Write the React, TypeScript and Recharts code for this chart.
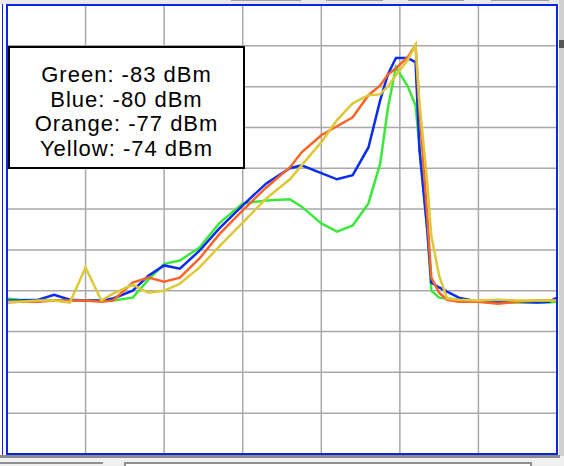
import React from "react";
import { LineChart, Line, XAxis, YAxis, CartesianGrid } from "recharts";

// Frequency position (grid divisions x10)
const freq = [0, 1.5, 4, 6, 8, 10, 12, 13.5, 16, 18, 20, 22, 24.5, 27, 30, 33, 36, 37.5, 40, 42, 44, 46, 47.5, 48.5, 49.5, 51, 52, 52.5, 53.5, 54, 55, 56, 57.5, 60, 62.5, 65, 67.5, 69, 70];

// Levels in dBm
const green = [-81.9, -82.2, -82.4, -82.4, -82.4, -82.4, -82.4, -82.4, -81.7, -77.3, -73.4, -72.6, -69.4, -63.5, -58.6, -57.9, -57.6, -59.4, -63.5, -65.5, -64.0, -58.6, -48.8, -35.0, -25.2, -29.9, -34.6, -44.9, -65.3, -80.0, -81.7, -81.9, -82.2, -82.7, -82.9, -82.9, -82.9, -82.9, -82.7];
const blue = [-82.4, -82.4, -82.2, -81.0, -82.2, -82.4, -82.4, -81.9, -80.0, -76.3, -73.8, -74.6, -70.2, -64.8, -59.1, -53.7, -50.0, -49.3, -51.2, -52.7, -51.7, -44.9, -33.3, -26.9, -23.0, -23.0, -24.0, -45.6, -65.3, -78.0, -79.2, -80.2, -81.7, -82.7, -82.7, -82.7, -82.9, -82.7, -81.7];
const orange = [-82.9, -82.7, -82.7, -82.4, -82.4, -82.4, -82.7, -82.4, -78.0, -76.8, -77.8, -76.8, -72.1, -66.2, -60.3, -54.7, -49.8, -46.1, -41.9, -39.7, -37.5, -32.1, -29.7, -27.0, -25.5, -22.8, -19.8, -35.8, -62.1, -76.8, -80.5, -82.2, -82.7, -82.7, -83.2, -82.7, -82.4, -82.4, -82.4];
const yellow = [-82.7, -82.7, -82.4, -82.4, -82.9, -74.3, -82.4, -80.7, -78.5, -80.5, -80.0, -78.3, -74.3, -69.2, -63.3, -57.4, -52.7, -49.3, -43.6, -38.2, -34.1, -32.1, -31.9, -29.9, -27.2, -23.5, -19.8, -34.1, -53.7, -66.5, -76.3, -81.9, -82.2, -82.4, -82.2, -82.4, -82.4, -82.4, -82.4];

const xTicks = [0, 10, 20, 30, 40, 50, 60, 70];
const yTicks = [-120, -110, -100, -90, -80, -70, -60, -50, -40, -30, -20, -10];

const legendLines = ["Green: -83 dBm", "Blue: -80 dBm", "Orange: -77 dBm", "Yellow: -74 dBm"];

const rows = freq.map((f, i) => ({
  f,
  green: green[i],
  blue: blue[i],
  orange: orange[i],
  yellow: yellow[i],
}));

const BORDER_BLUE = "#0b24e6";

export default function App() {
  return (
    <div
      style={{
        position: "fixed",
        left: 0,
        top: 0,
        width: 564,
        height: 466,
        background: "#ffffff",
        overflow: "hidden",
        fontFamily: "'Liberation Sans', Arial, sans-serif",
      }}
    >
      {/* top strip */}
      <div style={{ position: "absolute", left: 0, top: 0, width: 564, height: 4, background: "#e9e9e9" }} />
      <div style={{ position: "absolute", left: 231, top: 0, width: 70, height: 1, background: "#a0a0a0" }} />
      <div style={{ position: "absolute", left: 326, top: 0, width: 57, height: 1, background: "#a0a0a0" }} />
      <div style={{ position: "absolute", left: 408, top: 0, width: 56, height: 1, background: "#a0a0a0" }} />
      <div style={{ position: "absolute", left: 491, top: 0, width: 58, height: 1, background: "#a0a0a0" }} />
      {/* left outer panel line */}
      <div style={{ position: "absolute", left: 2, top: 4, width: 1, height: 451, background: BORDER_BLUE }} />
      {/* right strip */}
      <div style={{ position: "absolute", left: 559, top: 0, width: 5, height: 466, background: "#cfcfcf" }} />
      <div style={{ position: "absolute", left: 559, top: 40, width: 5, height: 8, background: "#555555" }} />
      {/* bottom strip */}
      <div style={{ position: "absolute", left: 0, top: 456, width: 564, height: 10, background: "#f0f0f0" }} />
      <div style={{ position: "absolute", left: 0, top: 455, width: 560, height: 3, background: "#8c8c8c" }} />
      <div style={{ position: "absolute", left: 0, top: 462, width: 103, height: 4, borderTop: "2px solid #909090", boxSizing: "border-box" }} />
      <div style={{ position: "absolute", left: 124, top: 462, width: 408, height: 6, border: "2px solid #909090", boxSizing: "border-box", background: "#ffffff" }} />

      {/* chart */}
      <div style={{ position: "absolute", left: 7, top: 5, width: 550, height: 449 }}>
        <LineChart width={550} height={449} data={rows} margin={{ top: 0, right: 0, bottom: 0, left: 0 }}>
          <CartesianGrid stroke="#a9a9a9" strokeWidth={1.5} />
          <XAxis dataKey="f" type="number" domain={[0, 70]} ticks={xTicks} hide />
          <YAxis type="number" domain={[-120, -10]} ticks={yTicks} hide />
          <Line dataKey="green" type="linear" stroke="#3ae83a" strokeWidth={2.5} dot={false} isAnimationActive={false} />
          <Line dataKey="blue" type="linear" stroke="#0a2cf0" strokeWidth={2.5} dot={false} isAnimationActive={false} />
          <Line dataKey="orange" type="linear" stroke="#fa6428" strokeWidth={2.5} dot={false} isAnimationActive={false} />
          <Line dataKey="yellow" type="linear" stroke="#dcc838" strokeWidth={2.5} dot={false} isAnimationActive={false} />
        </LineChart>
      </div>

      {/* plot border */}
      <div
        style={{
          position: "absolute",
          left: 6,
          top: 4,
          width: 552,
          height: 451,
          border: `2px solid ${BORDER_BLUE}`,
          boxSizing: "border-box",
          pointerEvents: "none",
        }}
      />

      {/* legend box */}
      <div
        style={{
          position: "absolute",
          left: 8,
          top: 46,
          width: 237,
          height: 123,
          border: "2px solid #000000",
          boxSizing: "border-box",
          background: "#ffffff",
          paddingTop: 15,
          textAlign: "center",
          fontSize: 22,
          lineHeight: "24.7px",
          letterSpacing: "1px",
          color: "#000000",
        }}
      >
        {legendLines.map((t) => (
          <div key={t}>{t}</div>
        ))}
      </div>
    </div>
  );
}
